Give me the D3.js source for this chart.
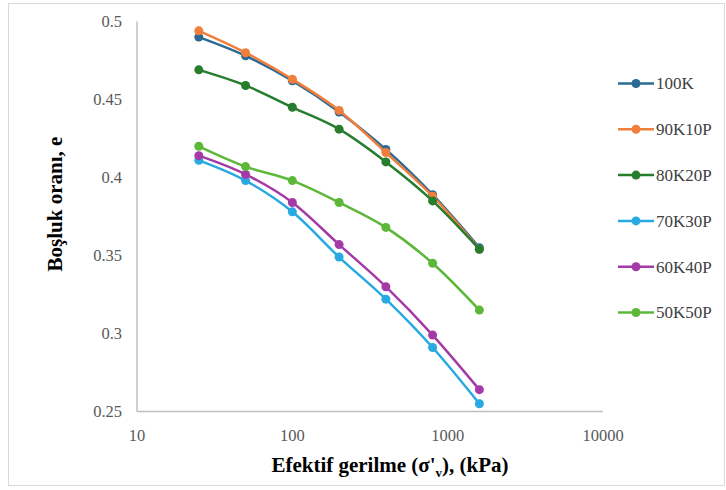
<!DOCTYPE html>
<html>
<head>
    <title>Boşluk oranı - Efektif gerilme</title>
    <script src="https://cdnjs.cloudflare.com/ajax/libs/d3/7.8.5/d3.min.js"></script>
    <style>
        body { margin: 0; background: #fff; }
        .tick-label { font-family: "Liberation Serif", "Times New Roman", serif; font-size: 16.5px; fill: #595959; }
        .axis-title { font-family: "Liberation Serif", "Times New Roman", serif; font-size: 21px; font-weight: bold; fill: #000; }
        .legend text { font-family: "Liberation Serif", "Times New Roman", serif; font-size: 17px; fill: #404040; }
    </style>
</head>
<body>
    <div id="chart"></div>
    <script>
        // stress steps (kPa)
        const stress = [25, 50, 100, 200, 400, 800, 1600];
        const seriesNames = ["100K", "90K10P", "80K20P", "70K30P", "60K40P", "50K50P"];
        const s100K   = [0.490, 0.478, 0.462, 0.442, 0.418, 0.389, 0.355];
        const s90K10P = [0.494, 0.480, 0.463, 0.443, 0.416, 0.388, 0.354];
        const s80K20P = [0.469, 0.459, 0.445, 0.431, 0.410, 0.385, 0.354];
        const s70K30P = [0.411, 0.398, 0.378, 0.349, 0.322, 0.291, 0.255];
        const s60K40P = [0.414, 0.402, 0.384, 0.357, 0.330, 0.299, 0.264];
        const s50K50P = [0.420, 0.407, 0.398, 0.384, 0.368, 0.345, 0.315];
        const colors = ["#2B6A94", "#F07F3C", "#267D2E", "#28A9E1", "#A43AA6", "#5DB83A"];
        const xTicks = [10, 100, 1000, 10000];
        const yTicks = [0.25, 0.3, 0.35, 0.4, 0.45, 0.5];

        const allValues = [s100K, s90K10P, s80K20P, s70K30P, s60K40P, s50K50P];
        const series = seriesNames.map((name, i) => ({
            name: name,
            color: colors[i],
            points: stress.map((s, j) => ({x: s, y: allValues[i][j]}))
        }));

        const W = 726, H = 490;
        const svg = d3.select("#chart").append("svg")
            .attr("width", W)
            .attr("height", H);

        // chart border
        svg.append("rect")
            .attr("x", 8.5).attr("y", 3.5)
            .attr("width", 716).attr("height", 482)
            .attr("fill", "#fff")
            .attr("stroke", "#d9d9d9");

        const x = d3.scaleLog().domain([10, 10000]).range([137, 603]);
        const y = d3.scaleLinear().domain([0.25, 0.5]).range([411.5, 21.5]);

        // axis lines
        svg.append("line")
            .attr("x1", x(10)).attr("x2", x(10))
            .attr("y1", y(0.5)).attr("y2", y(0.25))
            .attr("stroke", "#bfbfbf").attr("stroke-width", 1.5);
        svg.append("line")
            .attr("x1", x(10)).attr("x2", x(10000))
            .attr("y1", y(0.25)).attr("y2", y(0.25))
            .attr("stroke", "#bfbfbf").attr("stroke-width", 1.5);

        // tick labels
        svg.selectAll(".ytick")
            .data(yTicks)
            .join("text")
            .attr("class", "tick-label")
            .attr("x", 122)
            .attr("y", d => y(d))
            .attr("dy", "0.35em")
            .attr("text-anchor", "end")
            .text(d => d);

        svg.selectAll(".xtick")
            .data(xTicks)
            .join("text")
            .attr("class", "tick-label")
            .attr("x", d => x(d))
            .attr("y", 441)
            .attr("text-anchor", "middle")
            .text(d => d);

        // axis titles
        svg.append("text")
            .attr("class", "axis-title")
            .attr("x", 390)
            .attr("y", 472)
            .attr("text-anchor", "middle")
            .html("Efektif gerilme (σ'<tspan font-size='13px' dy='5'>v</tspan><tspan dy='-5'>), (kPa)</tspan>");

        svg.append("text")
            .attr("class", "axis-title")
            .attr("transform", "translate(62,204) rotate(-90)")
            .attr("text-anchor", "middle")
            .text("Boşluk oranı, e");

        const line = d3.line()
            .x(d => x(d.x))
            .y(d => y(d.y))
            .curve(d3.curveMonotoneX);

        series.forEach(s => {
            const g = svg.append("g");
            g.append("path")
                .datum(s.points)
                .attr("fill", "none")
                .attr("stroke", s.color)
                .attr("stroke-width", 2.5)
                .attr("d", line);
            g.selectAll("circle")
                .data(s.points)
                .join("circle")
                .attr("cx", d => x(d.x))
                .attr("cy", d => y(d.y))
                .attr("r", 4.5)
                .attr("fill", s.color);
        });

        // legend
        const legend = svg.append("g").attr("class", "legend");
        series.forEach((s, i) => {
            const row = legend.append("g")
                .attr("transform", `translate(618, ${83.5 + i * 45.8})`);
            row.append("line")
                .attr("x1", 0).attr("x2", 36)
                .attr("stroke", s.color).attr("stroke-width", 2.5);
            row.append("circle")
                .attr("cx", 18).attr("r", 4.5)
                .attr("fill", s.color);
            row.append("text")
                .attr("x", 38)
                .attr("dy", "0.35em")
                .text(s.name);
        });
    </script>
</body>
</html>
